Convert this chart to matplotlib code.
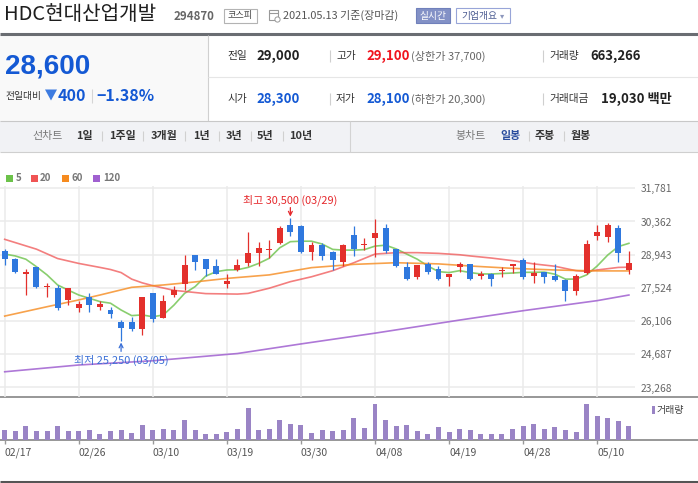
import matplotlib
matplotlib.use('Agg')
import matplotlib.pyplot as plt
from matplotlib.patches import Rectangle, Polygon
import numpy as np

plt.rcParams['font.family'] = ['Noto Sans CJK KR', 'DejaVu Sans']

# ── data ─────────────────────────────────────────────────────────────────────
dates = ['02/17', '02/18', '02/19', '02/22', '02/23', '02/24', '02/25', '02/26',
         '03/02', '03/03', '03/04', '03/05', '03/08', '03/09', '03/10', '03/11',
         '03/12', '03/15', '03/16', '03/17', '03/18', '03/19', '03/22', '03/23',
         '03/24', '03/25', '03/26', '03/29', '03/30', '03/31', '04/01', '04/02',
         '04/05', '04/06', '04/07', '04/08', '04/09', '04/12', '04/13', '04/14',
         '04/15', '04/16', '04/19', '04/20', '04/21', '04/22', '04/23', '04/26',
         '04/27', '04/28', '04/29', '04/30', '05/03', '05/04', '05/06', '05/07',
         '05/10', '05/11', '05/12', '05/13']

opens = [29100, 28750, 28100, 28400, 27550, 27500, 27000, 26650, 27150, 26700,
         26600, 26050, 26050, 25750, 27300, 26250, 27200, 27700, 28950, 28750,
         28450, 27700, 28300, 28600, 29000, 29150, 29450, 30200, 30150, 29050,
         29350, 29050, 28650, 29800, 29350, 29650, 30100, 29200, 28400, 28000,
         28550, 28350, 28000, 28400, 28550, 28050, 28100, 28250, 28450, 28700,
         28050, 28200, 28050, 27850, 27400, 28150, 29750, 29700, 30100, 28300]
highs = [29200, 28800, 28350, 28400, 27750, 27650, 27500, 26950, 27300, 26950,
         26700, 26150, 26300, 27150, 27300, 27200, 27600, 28950, 28950, 28750,
         28750, 28100, 28750, 29900, 29500, 29550, 30150, 30500, 30200, 29500,
         29450, 29100, 29400, 30150, 29650, 30450, 30250, 29200, 28650, 28500,
         28650, 28450, 28100, 28650, 28550, 28250, 28150, 28400, 28550, 28800,
         28650, 28200, 28550, 27900, 28100, 29550, 30200, 30300, 30200, 29100]
lows = [28500, 28150, 27200, 27500, 27150, 26600, 26800, 26500, 26500, 26600,
        26250, 25250, 25700, 25500, 26050, 26250, 27150, 27450, 28300, 28050,
        28100, 27500, 28250, 28450, 28450, 28800, 29400, 29750, 29000, 28700,
        28700, 28300, 28450, 28900, 29150, 28850, 29000, 28400, 27850, 27900,
        28100, 27850, 27600, 28200, 27850, 27900, 27600, 28000, 28150, 27900,
        27750, 27750, 27800, 26950, 27200, 28100, 29550, 29500, 28650, 28100]
closes = [28750, 28200, 28200, 27550, 27600, 26650, 27500, 26850, 26800, 26850,
          26400, 25800, 25750, 27150, 26200, 26950, 27450, 28500, 28650, 28350,
          28100, 27800, 28500, 29000, 29250, 29200, 30100, 29900, 29050, 29350,
          28900, 28700, 29350, 29200, 29400, 29850, 29100, 28450, 27900, 28500,
          28200, 27900, 28100, 28550, 27900, 28100, 27900, 28300, 28550, 28000,
          28150, 28000, 27850, 27400, 28050, 29400, 29900, 30200, 29000, 28600]
volumes = [474000, 427000, 664000, 427000, 427000, 664000, 427000, 427000, 474000, 284000,
           427000, 474000, 332000, 711000, 474000, 521000, 474000, 948000, 474000, 284000,
           284000, 379000, 521000, 1533000, 474000, 521000, 948000, 758000, 711000, 332000,
           474000, 427000, 474000, 1043000, 569000, 1706000, 948000, 664000, 711000, 427000,
           284000, 616000, 379000, 521000, 474000, 284000, 284000, 284000, 521000, 664000,
           758000, 521000, 616000, 474000, 379000, 1706000, 1138000, 1043000, 901000, 663266]

ma5 = [28970, 28890, 28750, 28430, 28080, 27650, 27430, 27220, 27080, 26940,
       26870, 26580, 26340, 26370, 26290, 26370, 26790, 27290, 27580, 28030,
       28220, 28290, 28300, 28400, 28570, 28790, 29240, 29500, 29520, 29520,
       29400, 29170, 29140, 29140, 29160, 29310, 29350, 29190, 28970, 28750,
       28460, 28220, 28180, 28260, 28180, 28120, 28120, 28140, 28160, 28190,
       28190, 28200, 28110, 27900, 27900, 28080, 28460, 28930, 29290, 29430]
ma20_idx = [0, 3, 5, 7, 9, 10, 11, 12, 13, 14, 16, 19, 22, 23, 25, 27, 29,
            31, 33, 35, 37, 39, 41, 43, 44, 46, 48, 50, 52, 54, 55, 56, 58, 59]
ma20 = [29600, 29180, 28780, 28570, 28400, 28310, 28180, 27900, 27740, 27620,
        27420, 27280, 27260, 27290, 27510, 27790, 28000, 28260, 28600, 28970,
        29030, 29030, 29000, 28940, 28890, 28800, 28690, 28550, 28450, 28260,
        28230, 28290, 28400, 28410]
ma60_idx = [0, 4, 7, 9, 12, 15, 18, 21, 25, 29, 33, 37, 41, 44, 48, 52, 56, 59]
ma60 = [26320, 26720, 27010, 27220, 27550, 27650, 27780, 27930, 28080, 28390,
        28530, 28600, 28550, 28460, 28360, 28290, 28250, 28250]
ma120_idx = [0, 7, 14, 22, 28, 35, 43, 49, 56, 59]
ma120 = [23940, 24230, 24410, 24720, 25130, 25590, 26150, 26550, 26980, 27220]

price_ticks = [23268, 24687, 26106, 27524, 28943, 30362, 31781]
date_ticks = ['02/17', '02/26', '03/10', '03/19', '03/30', '04/08', '04/19', '04/28', '05/10']

upper_limit, lower_limit = 37700, 20300
trade_value = 19030  # 백만

UP, DOWN = '#e3302c', '#2f78de'
MA_COLORS = ['#6cc24a', '#f05454', '#f68b1f', '#a060d0']

# ── figure / pixel helpers ───────────────────────────────────────────────────
W, H = 698, 483
fig = plt.figure(figsize=(W / 100, H / 100), dpi=100)
fig.patch.set_facecolor('white')


def box(left, top, right, bottom):
    return [left / W, 1 - bottom / H, (right - left) / W, (bottom - top) / H]


bg = fig.add_axes([0, 0, 1, 1])
bg.set_xlim(0, W)
bg.set_ylim(H, 0)
bg.axis('off')


def hline(y, x0, x1, color, lw=0.8):
    bg.plot([x0, x1], [y, y], color=color, lw=lw, solid_capstyle='butt')


def vline(x, y0, y1, color, lw=0.8):
    bg.plot([x, x], [y0, y1], color=color, lw=lw, solid_capstyle='butt')


# ── header ───────────────────────────────────────────────────────────────────
bg.text(4, 14, 'HDC현대산업개발', fontsize=14.5, color='#1e1e1e', va='center')
bg.text(174, 16, '294870', fontsize=8.3, fontweight='bold', color='#666', va='center')
bg.add_patch(Rectangle((224, 8.5), 32.5, 14, fc='white', ec='#b3b3b3', lw=0.8))
bg.text(240.3, 15.5, '코스피', fontsize=6.6, color='#444', ha='center', va='center')
bg.add_patch(Rectangle((269, 10), 9, 10, fc='none', ec='#999', lw=0.8))
hline(12.5, 269, 278, '#999', 0.8)
bg.add_patch(plt.Circle((277.5, 19.5), 2.6, fc='white', ec='#999', lw=0.7))
bg.text(283, 15.5, '2021.05.13 기준(장마감)', fontsize=7.9, color='#555', va='center')
bg.add_patch(Rectangle((416, 8), 34, 15, fc='#8391c6', ec='#7080bb', lw=0.8))
bg.text(433, 15.5, '실시간', fontsize=7, color='white', ha='center', va='center')
bg.add_patch(Rectangle((456, 8), 53.5, 15, fc='white', ec='#98a5d8', lw=0.8))
bg.text(461, 15.5, '기업개요', fontsize=7, color='#4a5a90', va='center')
bg.text(500, 15.5, '▾', fontsize=6, color='#8d97bd', va='center')
hline(33.5, 0, W, '#6a6d72', 2.2)

# ── quote summary ────────────────────────────────────────────────────────────
cur, prev = closes[-1], closes[-2]
chg = cur - prev
BLUE_TXT = '#1459d4'
bg.add_patch(Rectangle((0, 35), 207.5, 85.5, fc='#f9f9f9', ec='none'))
vline(207.5, 35, 120.5, '#d0d0d0')
hline(77.3, 207.5, W, '#e6e6e6')
bg.text(5, 67, f'{cur:,}', fontsize=20, fontweight='bold', color=BLUE_TXT,
        va='center', family=['Liberation Sans', 'DejaVu Sans'])
bg.text(6, 96, '전일대비', fontsize=7, color='#333', va='center')
bg.add_patch(Polygon([(45, 89.5), (57, 89.5), (51, 100.5)], closed=True, fc='#3d7be0', ec='none'))
bg.text(58, 96, f'{abs(chg):,}', fontsize=11.5, fontweight='bold', color=BLUE_TXT, va='center')
vline(92, 89, 103, '#d5d5d5')
bg.text(96, 96, f'\u2212{abs(chg) / prev * 100:.2f}%', fontsize=11.5, fontweight='bold',
        color=BLUE_TXT, va='center')

LBL, NUM = 7.7, 9.5
rows = [
    (56, [('전일', f'{prev:,}', '#222', None, 256),
          ('고가', f'{highs[-1]:,}', '#f0141e', f'(상한가 {upper_limit:,})', 366),
          ('거래량', f'{volumes[-1]:,}', '#222', None, 590)]),
    (99, [('시가', f'{opens[-1]:,}', BLUE_TXT, None, 256),
          ('저가', f'{lows[-1]:,}', BLUE_TXT, f'(하한가 {lower_limit:,})', 366),
          ('거래대금', f'{trade_value:,} 백만', '#222', None, 601)]),
]
col_lbl = [227, 336, 549]
for y, cells in rows:
    for k, (lab, num, col, extra, nx) in enumerate(cells):
        bg.text(col_lbl[k], y, lab, fontsize=LBL, color='#333', va='center')
        bg.text(nx, y, num, fontsize=NUM, fontweight='bold', color=col, va='center')
        if extra:
            bg.text(411, y, extra, fontsize=8, color='#666', va='center')
    vline(330, y - 6, y + 6, '#cfcfcf')
    vline(543, y - 6, y + 6, '#cfcfcf')

# ── toolbar ──────────────────────────────────────────────────────────────────
bg.add_patch(Rectangle((0, 120.5), W, 31, fc='#f1f2f5', ec='none'))
hline(120.5, 0, W, '#c8c8c8')
hline(151.5, 0, W, '#cfcfcf')
vline(349.5, 120.5, 151.5, '#d3d3d3')
ty = 136
bg.text(32, ty, '선차트', fontsize=7.9, color='#777', va='center')
for xx, t in [(76, '1일'), (109, '1주일'), (150.5, '3개월'), (193, '1년'),
              (226, '3년'), (257, '5년'), (289, '10년')]:
    bg.text(xx, ty, t, fontsize=7.9, fontweight='bold', color='#333', va='center')
for xx in [101.5, 143, 185, 219, 250.7, 282.7, 528.5, 564]:
    vline(xx, ty - 5, ty + 5, '#d0d0d0')
bg.text(455, ty, '봉차트', fontsize=7.9, color='#777', va='center')
bg.text(500.5, ty, '일봉', fontsize=7.9, fontweight='bold', color='#2a4d9e', va='center')
bg.text(535, ty, '주봉', fontsize=7.9, fontweight='bold', color='#333', va='center')
bg.text(571, ty, '월봉', fontsize=7.9, fontweight='bold', color='#333', va='center')

# ── MA legend ────────────────────────────────────────────────────────────────
for (sx, tx, lab), col in zip([(6, 15.5, '5'), (31, 40, '20'), (62, 71, '60'), (93, 103, '120')],
                              MA_COLORS):
    bg.add_patch(Rectangle((sx, 175), 6.5, 6.5, fc=col, ec='none'))
    bg.text(tx, 178.3, lab, fontsize=7, fontweight='bold', color='#777', va='center')

# ── price panel ──────────────────────────────────────────────────────────────
X0, X1, FIRST, STEP = 0, 635, 4.7, 10.58
xlim = ((X0 - FIRST) / STEP, (X1 - FIRST) / STEP)
x = np.arange(len(dates))
tick_idx = [dates.index(d) for d in date_ticks]

ax = fig.add_axes(box(X0, 186, X1, 397))
ax.set_facecolor('none')
ax.set_xlim(*xlim)
ax.set_ylim(22862, 31879)
for s in ax.spines.values():
    s.set_visible(False)
ax.set_yticks(price_ticks)
ax.set_xticks(tick_idx)
ax.grid(True, color='#ebebeb', lw=1.1)
ax.set_axisbelow(True)
ax.yaxis.tick_right()
ax.yaxis.set_major_formatter(lambda v, p: f'{int(round(v)):,}')
ax.tick_params(length=0, labelbottom=False, pad=4, labelsize=7.4, labelcolor='#666')

ax.plot(x, ma5, color=MA_COLORS[0], lw=1.2, alpha=0.8, zorder=2)
ax.plot(ma20_idx, ma20, color=MA_COLORS[1], lw=1.2, alpha=0.75, zorder=2)
ax.plot(ma60_idx, ma60, color=MA_COLORS[2], lw=1.2, alpha=0.8, zorder=2)
ax.plot(ma120_idx, ma120, color=MA_COLORS[3], lw=1.2, alpha=0.85, zorder=2)

colors = [UP if c >= o else DOWN for o, c in zip(opens, closes)]
ax.vlines(x, lows, highs, colors=colors, lw=0.9, zorder=4)
ax.bar(x, [abs(c - o) for o, c in zip(opens, closes)],
       bottom=[min(o, c) for o, c in zip(opens, closes)],
       width=0.56, color=colors, zorder=5)

ihi = int(np.argmax(highs))
ilo = int(np.argmin(lows))
ax.annotate(f'최고 {highs[ihi]:,} ({dates[ihi]})', xy=(ihi, highs[ihi]), xytext=(0, 12.8),
            textcoords='offset points', ha='center', va='center', fontsize=7.9,
            color='#e5282c', annotation_clip=False)
ax.annotate('', xy=(ihi, highs[ihi]), xytext=(0, 7.7), textcoords='offset points',
            arrowprops=dict(arrowstyle='->', color='#e5282c', lw=0.9, shrinkA=0, shrinkB=1.2,
                            mutation_scale=7), annotation_clip=False)
ax.annotate(f'최저 {lows[ilo]:,} ({dates[ilo]})', xy=(ilo, lows[ilo]), xytext=(0, -13.6),
            textcoords='offset points', ha='center', va='center', fontsize=7.9,
            color='#3a6fd6', annotation_clip=False)
ax.annotate('', xy=(ilo, lows[ilo]), xytext=(0, -7.4), textcoords='offset points',
            arrowprops=dict(arrowstyle='->', color='#3a6fd6', lw=0.9, shrinkA=0, shrinkB=1.0,
                            mutation_scale=7), annotation_clip=False)

# ── volume panel ─────────────────────────────────────────────────────────────
hline(397.3, 0, W, '#7a7a7a', 1.1)
hline(440.3, 0, W, '#7a7a7a', 1.1)
axv = fig.add_axes(box(X0, 397, X1, 440))
axv.set_facecolor('none')
axv.bar(x, volumes, width=0.47, color='#9a84c5', zorder=3)
axv.set_xlim(*xlim)
axv.set_ylim(0, 2038000)
for s in axv.spines.values():
    s.set_visible(False)
axv.set_yticks([])
axv.set_xticks(tick_idx, date_ticks)
axv.tick_params(axis='x', length=3, width=1, color='#999', pad=2.5, labelsize=7.5,
                labelcolor='#555')
for lab in axv.get_xticklabels():
    lab.set_horizontalalignment('left')

bg.add_patch(Rectangle((652, 406), 3.2, 7.5, fc='#9a84c5', ec='none'))
bg.text(657, 410, '거래량', fontsize=7.2, color='#444', va='center')

hline(481.8, 0, W, '#555', 2.2)

fig.savefig('out.png', dpi=100, facecolor='white')
